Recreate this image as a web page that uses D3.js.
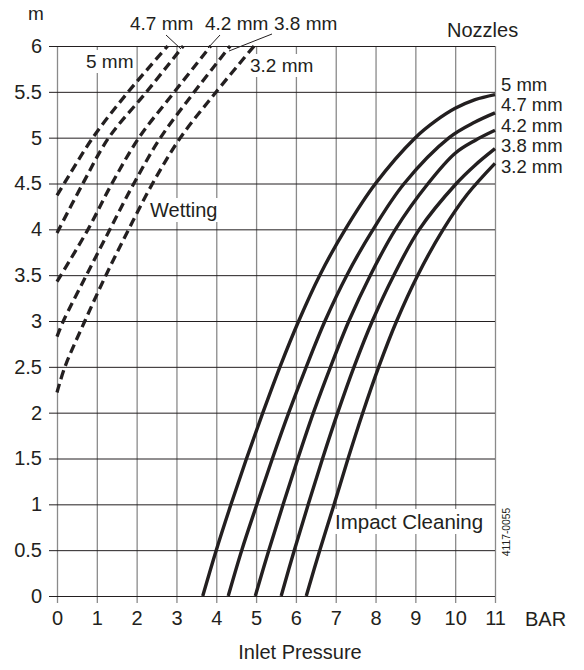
<!DOCTYPE html>
<html>
<head>
<meta charset="utf-8">
<script src="https://cdn.jsdelivr.net/npm/d3@7"></script>
<style>
  html, body { margin: 0; padding: 0; background: #fff; }
  svg text { font-family: "Liberation Sans", Arial, Helvetica, sans-serif; fill: #231f20; }
</style>
</head>
<body>
<div id="chart"></div>
<script>
// nozzle sizes (legend order, top to bottom)
const nozzles = ["5 mm", "4.7 mm", "4.2 mm", "3.8 mm", "3.2 mm"];

// tick values
const xTicks = [0, 1, 2, 3, 4, 5, 6, 7, 8, 9, 10, 11];
const yTicks = [0, 0.5, 1, 1.5, 2, 2.5, 3, 3.5, 4, 4.5, 5, 5.5, 6];

// Wetting curves (dashed): [bar, m]
const wet5 = [[0, 4.37], [0.18, 4.5], [0.9, 5], [1.79, 5.5], [2.78, 6]];
const wet47 = [[0, 3.96], [0.65, 4.5], [1.3, 5], [2.25, 5.5], [3.17, 6]];
const wet42 = [[0, 3.43], [0.78, 4], [1.38, 4.5], [2.06, 5], [2.95, 5.5], [3.86, 6]];
const wet38 = [[0, 2.83], [0.16, 3], [0.74, 3.5], [1.33, 4], [1.93, 4.5], [2.6, 5], [3.45, 5.5], [4.35, 6]];
const wet32 = [[0, 2.22], [0.2, 2.5], [0.7, 3], [1.23, 3.5], [1.8, 4], [2.4, 4.5], [3.1, 5], [4.0, 5.5], [4.95, 6]];

// Impact cleaning curves (solid): [bar, m]
const imp5 = [[3.66, 0], [4.0, 0.5], [4.37, 1], [4.76, 1.5], [5.17, 2], [5.6, 2.5], [6.07, 3], [6.6, 3.5], [7.24, 4], [8.0, 4.5], [9.0, 5], [9.5, 5.18], [10, 5.32], [10.5, 5.415], [11, 5.47]];
const imp47 = [[4.3, 0], [4.64, 0.5], [5.02, 1], [5.41, 1.5], [5.82, 2], [6.26, 2.5], [6.73, 3], [7.28, 3.5], [7.94, 4], [8.72, 4.5], [9.85, 5], [10.5, 5.17], [11, 5.27]];
const imp42 = [[4.98, 0], [5.32, 0.5], [5.68, 1], [6.05, 1.5], [6.44, 2], [6.87, 2.5], [7.33, 3], [7.87, 3.5], [8.5, 4], [9.32, 4.5], [10, 4.83], [10.5, 4.97], [11, 5.08]];
const imp38 = [[5.63, 0], [5.96, 0.5], [6.31, 1], [6.67, 1.5], [7.05, 2], [7.46, 2.5], [7.92, 3], [8.46, 3.5], [9.1, 4], [10.03, 4.5], [10.5, 4.7], [11, 4.88]];
const imp32 = [[6.26, 0], [6.6, 0.5], [6.96, 1], [7.31, 1.5], [7.68, 2], [8.08, 2.5], [8.53, 3], [9.06, 3.5], [9.7, 4], [10.3, 4.38], [11, 4.72]];

const wetting = [wet5, wet47, wet42, wet38, wet32];
const impact = [imp5, imp47, imp42, imp38, imp32];

const width = 584, height = 670;
const plotLeft = 57, plotRight = 495, plotTop = 46, plotBottom = 596;
const ink = "#231f20";

const svg = d3.select("#chart").append("svg")
  .attr("width", width)
  .attr("height", height);

const x = d3.scaleLinear().domain([0, 11]).range([plotLeft, plotRight]);
const y = d3.scaleLinear().domain([0, 6]).range([plotBottom, plotTop]);

// vertical grid (grey) + x ticks
const xAxis = svg.append("g")
  .attr("transform", `translate(0,${plotBottom + 7})`)
  .call(d3.axisBottom(x).tickValues(xTicks).tickSize(-(plotBottom - plotTop + 7)).tickPadding(8).tickFormat(d3.format("d")));
xAxis.select(".domain").remove();
xAxis.selectAll(".tick line").attr("stroke", "#8a8a8a").attr("stroke-width", 1.3);
xAxis.selectAll(".tick text").style("font-size", "20px").attr("fill", ink);

// horizontal grid (black) + y ticks
const yAxis = svg.append("g")
  .attr("transform", `translate(${plotLeft - 8},0)`)
  .call(d3.axisLeft(y).tickValues(yTicks).tickSize(-(plotRight - plotLeft + 8)).tickPadding(7).tickFormat(d => d3.format("~g")(d)));
yAxis.select(".domain").remove();
yAxis.selectAll(".tick line").attr("stroke", ink).attr("stroke-width", 1);
yAxis.selectAll(".tick text").style("font-size", "20px").attr("fill", ink);

// labels with white backgrounds (in plot)
function boxedLabel(tx, ty, str, size) {
  const g = svg.append("g");
  const t = g.append("text").attr("x", tx).attr("y", ty).style("font-size", size + "px").text(str);
  const b = t.node().getBBox();
  g.insert("rect", "text")
    .attr("x", b.x - 2).attr("y", b.y - 1)
    .attr("width", b.width + 4).attr("height", b.height + 2)
    .attr("fill", "#fff");
  return g;
}
boxedLabel(86, 68, "5 mm", 19);
boxedLabel(250, 72, "3.2 mm", 19);
boxedLabel(150, 217, "Wetting", 20);
boxedLabel(335, 529, "Impact Cleaning", 20.5);

const line = d3.line()
  .x(d => x(d[0]))
  .y(d => y(d[1]))
  .curve(d3.curveCatmullRom.alpha(0.5));

svg.append("g").selectAll("path")
  .data(wetting)
  .join("path")
  .attr("d", line)
  .attr("fill", "none")
  .attr("stroke", ink)
  .attr("stroke-width", 3.3)
  .attr("stroke-dasharray", "9,5");

svg.append("g").selectAll("path")
  .data(impact)
  .join("path")
  .attr("d", line)
  .attr("fill", "none")
  .attr("stroke", ink)
  .attr("stroke-width", 3.4);

// nozzle legend at the right ends
svg.append("text").attr("x", 447).attr("y", 37).style("font-size", "20px").text("Nozzles");
svg.append("g").selectAll("text")
  .data(nozzles)
  .join("text")
  .attr("x", 501)
  .attr("y", (d, i) => 91 + i * 20.4)
  .style("font-size", "18.5px")
  .text(d => d);

// top labels with leaders for the wetting curves
const topLabels = [
  { text: nozzles[1], tx: 130, lx: [166, 181], ly: [35, 49] },
  { text: nozzles[2], tx: 205, lx: [220, 208], ly: [35, 48] },
  { text: nozzles[3], tx: 274, lx: [272, 229], ly: [34, 51] }
];
topLabels.forEach(d => {
  svg.append("text").attr("x", d.tx).attr("y", 30).style("font-size", "19px").text(d.text);
  svg.append("line")
    .attr("x1", d.lx[0]).attr("y1", d.ly[0])
    .attr("x2", d.lx[1]).attr("y2", d.ly[1])
    .attr("stroke", ink).attr("stroke-width", 1);
});

// axis titles
svg.append("text").attr("x", 28).attr("y", 20).style("font-size", "19px").text("m");
svg.append("text").attr("x", 525).attr("y", 626).style("font-size", "20px").text("BAR");
svg.append("text").attr("x", 300).attr("y", 659).attr("text-anchor", "middle").style("font-size", "20px").text("Inlet Pressure");

// drawing number
svg.append("text")
  .attr("transform", "translate(510,532) rotate(-90)")
  .attr("text-anchor", "middle")
  .style("font-size", "10.3px")
  .text("4117-0055");
</script>
</body>
</html>
